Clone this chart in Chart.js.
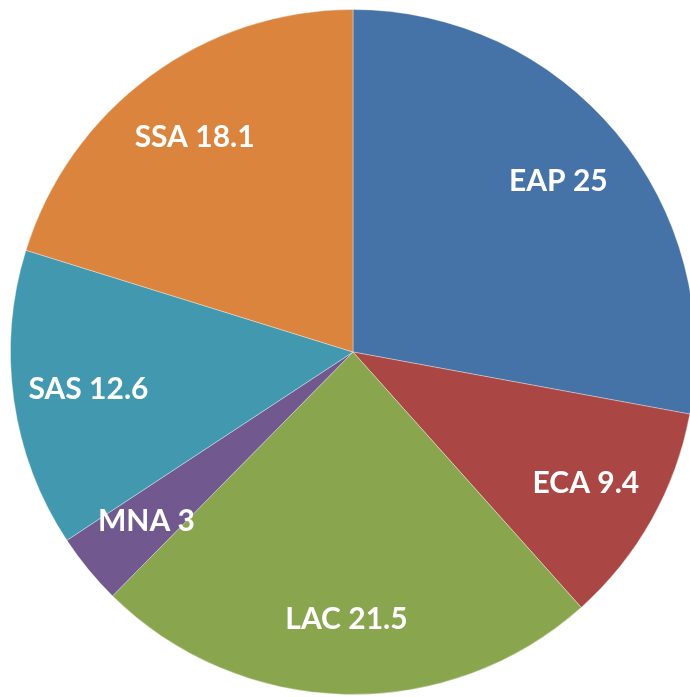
<!DOCTYPE html>
<html>
<head>
<meta charset="utf-8">
<script src="https://cdn.jsdelivr.net/npm/chart.js@4"></script>
<style>
  html, body { margin: 0; padding: 0; background: #fff; overflow: hidden; }
  #wrap { position: absolute; left: 0; top: 0; width: 700px; height: 697px; }
</style>
</head>
<body>
<div id="wrap"><canvas id="region-chart"></canvas></div>
<script>
const regions = ["EAP", "ECA", "LAC", "MNA", "SAS", "SSA"];
const shares = [25, 9.4, 21.5, 3, 12.6, 18.1];
const sliceColors = ["#4572A7", "#AA4643", "#89A54E", "#71588F", "#4198AF", "#DB843D"];

// draws "NAME value" inside each slice
const sliceLabels = {
  id: "sliceLabels",
  afterDatasetsDraw(chart) {
    const ctx = chart.ctx;
    const meta = chart.getDatasetMeta(0);
    ctx.save();
    ctx.font = "bold 30px Lato";
    ctx.fillStyle = "#ffffff";
    ctx.textAlign = "center";
    ctx.textBaseline = "middle";
    meta.data.forEach((arc, i) => {
      const mid = (arc.startAngle + arc.endAngle) / 2;
      const r = arc.outerRadius * 0.78;
      const x = arc.x + Math.cos(mid) * r;
      const y = arc.y + Math.sin(mid) * r;
      ctx.fillText(regions[i] + " " + shares[i], x, y);
    });
    ctx.restore();
  }
};

const ctx = document.getElementById("region-chart").getContext("2d");
new Chart(ctx, {
  type: "pie",
  data: {
    labels: regions,
    datasets: [{
      data: shares,
      backgroundColor: sliceColors,
      borderColor: "rgba(255,255,255,0.35)",
      borderWidth: 1
    }]
  },
  options: {
    responsive: true,
    maintainAspectRatio: false,
    animation: false,
    layout: { padding: { left: 10, top: 9, right: 4, bottom: 2 } },
    plugins: {
      legend: { display: false },
      tooltip: { enabled: false }
    }
  },
  plugins: [sliceLabels]
});
</script>
</body>
</html>
